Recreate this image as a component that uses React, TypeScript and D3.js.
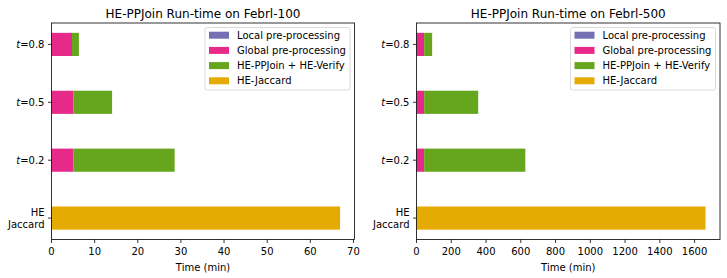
import { scaleLinear } from "d3";

// categories bottom -> top
const categories = ["HE Jaccard", "t=0.2", "t=0.5", "t=0.8"];
const seriesNames = ["Local pre-processing", "Global pre-processing", "HE-PPJoin + HE-Verify", "HE-Jaccard"];
const seriesColors = ["#7570b3", "#e7298a", "#66a61e", "#e6ab02"];

// Febrl-100 (minutes)
const local100 = [0, 0.05, 0.05, 0.05];
const global100 = [0, 5.0, 5.0, 4.7];
const join100 = [0, 23.5, 9.0, 1.6];
const jaccard100 = [66.9, 0, 0, 0];
const ticks100 = [0, 10, 20, 30, 40, 50, 60, 70];

// Febrl-500 (minutes)
const local500 = [0, 0.5, 0.5, 0.5];
const global500 = [0, 43.5, 43.5, 43.5];
const join500 = [0, 582, 311, 46];
const jaccard500 = [1663, 0, 0, 0];
const ticks500 = [0, 200, 400, 600, 800, 1000, 1200, 1400, 1600];

const FONT = "DejaVu Sans, sans-serif";
const TOP = 23;
const BOTTOM = 239.5;
const BAR_W = 0.4;

interface PanelProps {
  title: string;
  left: number;
  right: number;
  series: number[][];
  ticks: number[];
}

function Panel({ title, left, right, series, ticks }: PanelProps) {
  const totals = categories.map((_, i) => series.reduce((s, arr) => s + arr[i], 0));
  const maxTotal = Math.max(...totals);
  const x = scaleLinear().domain([0, maxTotal * 1.05]).range([left, right]);
  const y = scaleLinear().domain([-0.2 - 0.17, 3.2 + 0.17]).range([BOTTOM, TOP]);

  const stacks = categories.map((_, i) => {
    let acc = 0;
    return series.map((arr, k) => {
      const x0 = acc;
      acc += arr[i];
      return { k, x0, x1: acc };
    });
  });

  const legW = 145;
  const legX = right - 4.5 - legW;
  const legY = 27.5;
  const cx = (left + right) / 2;

  return (
    <g fontFamily={FONT}>
      <text x={cx} y={17.5} textAnchor="middle" fontSize={12}>
        {title}
      </text>
      {stacks.map((st, i) =>
        st
          .filter((s) => s.x1 > s.x0)
          .map((s) => (
            <rect
              key={`${i}-${s.k}`}
              x={x(s.x0)}
              y={y(i + BAR_W / 2)}
              width={x(s.x1) - x(s.x0)}
              height={y(i - BAR_W / 2) - y(i + BAR_W / 2)}
              fill={seriesColors[s.k]}
            />
          ))
      )}
      <rect x={left} y={TOP} width={right - left} height={BOTTOM - TOP} fill="none" stroke="#000" strokeWidth={0.8} />
      {ticks.map((t) => (
        <g key={t}>
          <line x1={x(t)} x2={x(t)} y1={BOTTOM} y2={BOTTOM + 3.5} stroke="#000" strokeWidth={0.8} />
          <text x={x(t)} y={254.5} textAnchor="middle" fontSize={10}>
            {t}
          </text>
        </g>
      ))}
      <text x={cx} y={270.5} textAnchor="middle" fontSize={10}>
        Time (min)
      </text>
      {categories.map((c, i) => (
        <g key={c}>
          <line x1={left - 3.5} x2={left} y1={y(i)} y2={y(i)} stroke="#000" strokeWidth={0.8} />
          {c.startsWith("t=") ? (
            <text x={left - 7} y={y(i) + 3.6} textAnchor="end" fontSize={10}>
              <tspan fontStyle="italic">t</tspan>
              <tspan>{"=" + c.slice(2)}</tspan>
            </text>
          ) : (
            <text x={left - 7} textAnchor="end" fontSize={10}>
              <tspan x={left - 7} y={y(i) - 2.3}>HE</tspan>
              <tspan x={left - 7} y={y(i) + 9.7}>Jaccard</tspan>
            </text>
          )}
        </g>
      ))}
      <rect x={legX} y={legY} width={legW} height={62.5} rx={2} fill="#fff" fillOpacity={0.8} stroke="#d0d0d0" strokeWidth={0.8} />
      {seriesNames.map((n, k) => {
        const yy = legY + 7.7 + k * 15.2;
        return (
          <g key={n}>
            <rect x={legX + 4} y={yy - 3.5} width={20} height={7} fill={seriesColors[k]} />
            <text x={legX + 32} y={yy + 3.6} fontSize={10}>
              {n}
            </text>
          </g>
        );
      })}
    </g>
  );
}

export default function App() {
  return (
    <div style={{ position: "fixed", left: 0, top: 0 }}>
      <svg width={727} height={278} style={{ display: "block", background: "#fff" }}>
        <Panel
          title="HE-PPJoin Run-time on Febrl-100"
          left={51.5}
          right={354.5}
          series={[local100, global100, join100, jaccard100]}
          ticks={ticks100}
        />
        <Panel
          title="HE-PPJoin Run-time on Febrl-500"
          left={416.5}
          right={720}
          series={[local500, global500, join500, jaccard500]}
          ticks={ticks500}
        />
      </svg>
    </div>
  );
}
